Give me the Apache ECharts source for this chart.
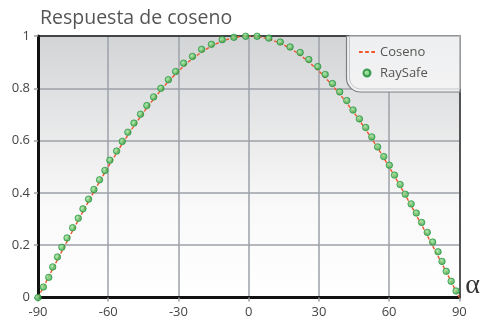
<!DOCTYPE html>
<html>
<head>
<meta charset="utf-8">
<script src="https://cdn.jsdelivr.net/npm/echarts@6/dist/echarts.min.js"></script>
<style>html,body{margin:0;padding:0;background:#fff;}#c{width:483px;height:320px;}</style>
</head>
<body>
<div id="c"></div>
<script>
// Tick labels
var xTicks = [-90, -60, -30, 0, 30, 60, 90];
var yTicks = [0, 0.2, 0.4, 0.6, 0.8, 1];

// Coseno reference line (angle, response)
var cosAngles = [-90,-85,-80,-75,-70,-65,-60,-55,-50,-45,-40,-35,-30,-25,-20,-15,-10,-5,0,5,10,15,20,25,30,35,40,45,50,55,60,65,70,75,80,85,90];
var cosValues = [0,0.0872,0.1736,0.2588,0.3420,0.4226,0.5,0.5736,0.6428,0.7071,0.7660,0.8192,0.8660,0.9063,0.9397,0.9659,0.9848,0.9962,1,0.9962,0.9848,0.9659,0.9397,0.9063,0.8660,0.8192,0.7660,0.7071,0.6428,0.5736,0.5,0.4226,0.3420,0.2588,0.1736,0.0872,0];

// RaySafe measured points (angle, response)
var rsAngles = [-90,-87.7,-85.4,-83.7,-81.7,-79.8,-77.6,-75.2,-72.8,-70.8,-68.4,-66.1,-63.7,-61.4,-59.3,-56.4,-54.0,-51.6,-49.0,-46.2,-43.5,-40.6,-37.5,-34.3,-31.2,-27.8,-24.0,-20.1,-15.9,-11.3,-6.3,-1.3,3.6,8.6,13.5,17.7,22.0,25.7,29.5,32.7,35.8,38.9,41.9,44.6,47.3,50.0,52.6,55.1,57.7,60.1,62.3,64.7,66.9,69.4,71.6,73.9,76.3,78.6,80.9,82.6,84.4,86.5,88.6];
var rsValues = [0,0.040,0.077,0.117,0.155,0.192,0.228,0.267,0.303,0.339,0.376,0.413,0.450,0.486,0.525,0.560,0.597,0.632,0.667,0.701,0.734,0.767,0.800,0.833,0.864,0.896,0.922,0.949,0.968,0.986,0.995,0.999,0.999,0.992,0.977,0.958,0.937,0.910,0.883,0.853,0.818,0.786,0.753,0.717,0.683,0.650,0.614,0.576,0.539,0.506,0.468,0.432,0.395,0.358,0.323,0.287,0.249,0.212,0.175,0.138,0.100,0.062,0.025];

var cosData = cosAngles.map(function(a, i){ return [a, cosValues[i]]; });
var rsData = rsAngles.map(function(a, i){ return [a, rsValues[i]]; });

var FONT = 'Open Sans';
var RED = '#f0552a';
var GREEN = {type: 'radial', x: 0.4, y: 0.4, r: 0.6, colorStops: [{offset: 0, color: '#a6eaa0'}, {offset: 1, color: '#25a23e'}]};
var chart = echarts.init(document.getElementById('c'), null, {renderer: 'canvas'});
chart.setOption({
  animation: false,
  textStyle: {fontFamily: FONT},
  title: {
    text: 'Respuesta de coseno',
    left: 35, top: 3,
    textStyle: {fontFamily: FONT, fontSize: 19.5, fontWeight: 'normal', color: '#555'}
  },
  grid: {
    left: 38, right: 23, top: 36, bottom: 22.5,
    show: true, borderWidth: 0,
    backgroundColor: {type: 'linear', x: 0, y: 0, x2: 0, y2: 1,
      colorStops: [{offset: 0, color: '#d3d4d6'}, {offset: 0.65, color: '#f9f9f9'}, {offset: 1, color: '#ffffff'}]}
  },
  legend: {
    orient: 'vertical', left: 359, top: 45, padding: 0, itemGap: 7,
    itemWidth: 16, itemHeight: 7,
    textStyle: {fontFamily: FONT, fontSize: 13, color: '#555', lineHeight: 14},
    data: [
      {name: 'Coseno', icon: 'path://M0,0h3v1.6h-3z M5,0h3v1.6h-3z M10,0h3v1.6h-3z', itemStyle: {color: RED, borderWidth: 0}},
      {name: 'RaySafe'}
    ]
  },
  graphic: [
    {type: 'rect', z: 1, silent: true,
     shape: {x: 346.5, y: 36, width: 113.5, height: 56, r: [0, 0, 0, 14]},
     style: {fill: {type: 'linear', x: 0, y: 0, x2: 0, y2: 1, colorStops: [{offset: 0, color: '#eeeff0'}, {offset: 1, color: '#f3f3f4'}]},
             stroke: '#7d7f82', lineWidth: 1.2}},
    {type: 'rect', z: 1, silent: true,
     shape: {x: 349.5, y: 36, width: 110.5, height: 53, r: [0, 0, 0, 11]},
     style: {fill: 'none', stroke: '#c4c6c8', lineWidth: 1}}
  ],
  xAxis: [{
    type: 'value', min: xTicks[0], max: xTicks[xTicks.length - 1], interval: xTicks[1] - xTicks[0],
    name: 'α', nameLocation: 'end', nameGap: 6,
    nameTextStyle: {fontFamily: 'Liberation Serif', fontSize: 28, color: '#333', verticalAlign: 'bottom', lineHeight: 24},
    axisLine: {onZero: false, lineStyle: {color: '#111', width: 3}},
    axisTick: {show: true, length: 4, lineStyle: {color: '#9aa0a6', width: 1.5}},
    axisLabel: {fontFamily: FONT, fontSize: 13, color: '#444', margin: 8},
    splitLine: {lineStyle: {color: '#9ca2a8', width: 1.5}}
  }, {
    type: 'value', position: 'top', min: -90, max: 90,
    axisLine: {show: true, onZero: false, lineStyle: {color: '#222', width: 1.5}},
    axisTick: {show: false}, axisLabel: {show: false}, splitLine: {show: false}
  }],
  yAxis: [{
    type: 'value', min: yTicks[0], max: yTicks[yTicks.length - 1], interval: yTicks[1] - yTicks[0],
    axisLine: {show: true, onZero: false, lineStyle: {color: '#111', width: 3}},
    axisTick: {show: true, length: 4, lineStyle: {color: '#9aa0a6', width: 1.5}},
    axisLabel: {fontFamily: FONT, fontSize: 13, color: '#444', margin: 8},
    splitLine: {lineStyle: {color: '#9ca2a8', width: 1.5}}
  }, {
    type: 'value', position: 'right', min: 0, max: 1,
    axisLine: {show: true, onZero: false, lineStyle: {color: '#333', width: 1.5}},
    axisTick: {show: false}, axisLabel: {show: false}, splitLine: {show: false}
  }],
  series: [{
    name: 'Coseno', type: 'line', data: cosData, showSymbol: false, symbol: 'none', z: 3,
    lineStyle: {color: RED, width: 1.4, type: [3.5, 2]},
    itemStyle: {color: RED}
  }, {
    name: 'RaySafe', type: 'scatter', data: rsData, symbol: 'circle', symbolSize: 6.5, z: 4,
    itemStyle: {color: GREEN, borderColor: '#1c8a33', borderWidth: 0.8}
  }]
});
</script>
</body>
</html>
